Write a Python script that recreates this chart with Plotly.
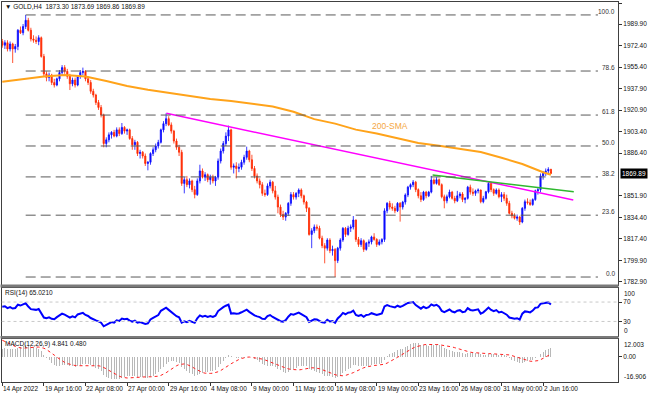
import plotly.graph_objects as go

# ---------------- data ----------------
OPEN0 = 1976.0
CLOSE = [1973,1975,1970,1974,1970,1972,1985,1983,1988,1993,1985,1978,1977,1976,1979,1964,1950,1947,1949,1943,
         1941,1946,1951,1955,1952,1948,1942,1945,1941,1948,1951,1952,1946,1943,1936,1933,1927,1923,1917,1894,
         1897,1901,1903,1900,1905,1902,1907,1904,1905,1898,1893,1895,1886,1887,1884,1878,1879,1886,1889,1892,
         1895,1905,1910,1914,1909,1904,1896,1891,1887,1862,1865,1861,1864,1857,1853,1864,1872,1867,1869,1865,
         1867,1864,1867,1880,1888,1894,1900,1905,1875,1876,1874,1875,1879,1883,1888,1881,1874,1868,1864,1861,
         1854,1853,1860,1863,1856,1851,1843,1837,1835,1838,1846,1853,1851,1854,1856.7,1852,1847,1842,1821,1824,
         1827,1826,1818,1812,1810,1816.5,1808,1809,1800,1810,1816.5,1825.9,1821,1826,1827,1832.6,1817,1813,1816,1809,
         1814,1815,1819,1817,1813,1815,1817,1840,1846,1843,1842,1840,1846,1843,1847,1852.7,1859,1861,1863,1857,
         1852,1849,1855,1852,1855,1864.7,1862,1865,1861,1851.3,1848,1851.3,1855,1850,1848,1852,1853.5,1849,1850,1859,
         1855,1854,1856,1856.7,1847.3,1850,1855.3,1862,1857,1854,1856.7,1851.3,1853,1850,1846,1838,1836,1834,1835,1831,
         1842,1847.3,1846.5,1845,1849,1856,1857,1868,1870,1872,1873.3,1869.89]
HIGH = [1978,1977,1977,1976,1975,1974,1986,1988,1990,1997.3,1995,1987,1981,1980,1981,1980,1966,1952,1951,1950,
        1946,1947,1953,1957,1957,1954,1950,1947,1947,1949,1953,1955,1953,1948,1945,1938,1934,1929,1925,1918,
        1899,1903,1904,1905,1907,1907,1910.5,1908,1906,1906,1900,1897,1896,1889,1888,1886,1880,1887,1891,1894,
        1897,1906,1912,1918.3,1916,1911,1905,1898,1893,1889,1867,1868,1866,1865,1860,1866,1877,1874,1871,1870,
        1869,1869,1868,1882,1890,1896,1903,1908.4,1906,1878,1879,1878,1881,1885,1891.5,1889,1885,1876,1870,1866,
        1863,1857,1862,1865,1864,1860,1853,1845,1840,1839,1847,1855,1855,1855,1858,1858,1853,1848,1843,1826,
        1829,1829,1828,1820,1814,1818,1818,1812,1810,1811,1818,1827,1827,1828,1829,1835.8,1833,1819,1818,1817,
        1815,1817,1820,1822,1818,1817,1818,1842,1847,1848,1846,1844,1847,1847,1848,1854,1860,1862,1864.7,1864,
        1858,1855,1856,1856,1856,1868,1866,1867,1866,1862,1853,1853,1857,1856,1852,1856,1855,1855,1851,1860,
        1861,1858,1857,1858,1857,1852,1856,1863.4,1863,1858,1858,1858,1855,1855,1853,1848,1840,1838,1837,1836,
        1843,1849,1850,1849,1850,1857,1859,1870,1872,1874,1875,1873.69]
LOW = [1971,1970,1968,1968,1958.7,1967,1969,1982,1981,1986,1984,1976,1975,1974,1973,1963,1948,1944,1944,1941,
       1939,1940,1944,1949,1950,1946,1937,1940,1939,1940,1946,1949,1944,1941,1934,1931,1925,1921,1915,1891,
       1891,1895,1898,1899,1899,1900,1901,1902,1901,1897,1889,1889,1884,1882,1882,1876,1872.5,1877,1884,1887,
       1890,1894,1903,1908,1908,1902,1894,1889,1884,1860,1854,1859,1858,1855,1850,1852,1862,1866,1864,1863,
       1861,1862,1860,1865,1878,1886,1892,1896,1873,1870,1866,1871,1873,1877,1881,1879,1872,1866,1862,1858,
       1852,1851.3,1852,1858,1854,1849,1838,1835,1832.6,1832,1836,1844,1849,1849,1851,1850,1845,1839,1820,1810,
       1822,1824,1817,1810,1797.8,1808,1806,1804,1786.8,1798,1808,1815,1819,1820,1823,1825,1815,1811,1811,1807,
       1808,1811,1813,1816,1811,1812,1813,1815,1838,1841,1840,1838,1839,1831.3,1841,1845,1851,1857,1859,1855,
       1850,1847,1848,1850,1851,1854,1861,1861,1860,1850,1842,1846,1850,1849,1846,1847,1850,1847,1846,1849,
       1853,1852,1852,1854,1846,1846,1849,1854,1855,1852,1853,1850,1847,1848,1844,1837,1834,1833,1832,1828.6,
       1830,1840,1845,1844,1844,1848,1853,1855,1865,1868,1870,1869.86]

SMA_IDX = [0,8,16,24,32,40,48,56,64,72,80,88,96,104,112,120,128,136,144,152,160,168,176,184,192,200,208,211]
SMA_VAL = [1943.7,1946.0,1947.9,1949.0,1947.9,1944.2,1940.3,1937.2,1934.6,1931.8,1929.8,1928.1,1926.2,1923.8,
           1919.5,1913.6,1910.0,1905.2,1902.0,1898.5,1894.5,1892.2,1890.0,1887.2,1882.6,1877.6,1871.0,1869.0]

FIB_HIGH, FIB_LOW = 1997.3, 1786.8
FIB_RATIOS = [1.0, 0.786, 0.618, 0.5, 0.382, 0.236, 0.0]
FIB_TEXT = ["100.0", "78.6", "61.8", "50.0", "38.2", "23.6", "0.0"]

TL_MAGENTA_X, TL_MAGENTA_Y = [63.1, 219.6], [1918.3, 1848.7]
TL_GREEN_X, TL_GREEN_Y = [165.5, 219.8], [1868.7, 1855.3]

PRICE_TICKS = [2006.90, 1989.90, 1972.40, 1955.40, 1937.90, 1920.90, 1903.40, 1886.40,
               1851.90, 1834.40, 1817.40, 1799.90, 1782.90]
TIME_IDX = [0, 16, 32, 48, 64, 80, 96, 112, 128, 144, 160, 176, 192, 208]
TIME_TXT = ["14 Apr 2022", "19 Apr 16:00", "22 Apr 08:00", "27 Apr 00:00", "29 Apr 16:00", "4 May 08:00",
            "9 May 00:00", "11 May 16:00", "16 May 08:00", "19 May 00:00", "23 May 16:00", "26 May 08:00",
            "31 May 00:00", "2 Jun 16:00"]

RSI_N = 14
RSI_SEED_GAIN, RSI_SEED_LOSS = 4.0, 2.4
EMA_FAST_SEED, EMA_SLOW_SEED = 1966.0, 1961.0
MACD_PRE = [13.5, 13.0, 12.5, 12.0, 11.5, 11.0, 10.0, 9.0]   # main-line values of the 8 bars before the first

# ---------------- derived series ----------------
N = len(CLOSE)
idx = list(range(N))
opens = [OPEN0] + CLOSE[:-1]

rsi = []
ag, al, prev = RSI_SEED_GAIN, RSI_SEED_LOSS, OPEN0
for c in CLOSE:
    ch = c - prev
    ag = (ag * (RSI_N - 1) + max(ch, 0)) / RSI_N
    al = (al * (RSI_N - 1) + max(-ch, 0)) / RSI_N
    rsi.append(100 - 100 / (1 + ag / al))
    prev = c

macd, e12, e26 = [], EMA_FAST_SEED, EMA_SLOW_SEED
for c in CLOSE:
    e12 += 2 / 13 * (c - e12)
    e26 += 2 / 27 * (c - e26)
    macd.append(e12 - e26)
full = MACD_PRE + macd
signal = [sum(full[i:i + 9]) / 9 for i in range(N)]

fib_levels = [FIB_LOW + r * (FIB_HIGH - FIB_LOW) for r in FIB_RATIOS]

# ---------------- geometry ----------------
W, H = 648, 396
def fx(px): return px / W
def fy(px): return 1 - px / H

XR = [-0.3, 236.8]
XD = [fx(1.5), fx(618)]
MAIN_D = [fy(285), fy(2)]
RSI_D = [fy(336), fy(287.5)]
MACD_D = [fy(382), fy(338.5)]
FONT = "Liberation Sans, Arial, sans-serif"
FS = 6.5
BULL, BEAR = "#0a0aff", "#ff2a00"

fig = go.Figure()
fig.add_trace(go.Candlestick(
    x=idx, open=opens, high=HIGH, low=LOW, close=CLOSE, xaxis="x", yaxis="y",
    increasing=dict(line=dict(color=BULL, width=0.8), fillcolor=BULL),
    decreasing=dict(line=dict(color=BEAR, width=0.8), fillcolor=BEAR),
    whiskerwidth=0, showlegend=False, hoverinfo="skip"))
fig.add_trace(go.Scatter(x=SMA_IDX, y=SMA_VAL, mode="lines", line=dict(color="#ffa31a", width=2),
                         xaxis="x", yaxis="y", showlegend=False, hoverinfo="skip"))
fig.add_trace(go.Scatter(x=TL_MAGENTA_X, y=TL_MAGENTA_Y, mode="lines", line=dict(color="#ff00ff", width=1.5),
                         xaxis="x", yaxis="y", showlegend=False, hoverinfo="skip"))
fig.add_trace(go.Scatter(x=TL_GREEN_X, y=TL_GREEN_Y, mode="lines", line=dict(color="#2eb82e", width=1.5),
                         xaxis="x", yaxis="y", showlegend=False, hoverinfo="skip"))
fig.add_trace(go.Scatter(x=idx, y=rsi, mode="lines", line=dict(color="#0000ff", width=2),
                         xaxis="x2", yaxis="y2", showlegend=False, hoverinfo="skip"))
fig.add_trace(go.Bar(x=idx, y=macd, width=0.4, marker=dict(color="#b8b8b8", line=dict(width=0)),
                     xaxis="x3", yaxis="y3", showlegend=False, hoverinfo="skip"))
fig.add_trace(go.Scatter(x=idx, y=signal, mode="lines", line=dict(color="#ff2020", width=1, dash="dot"),
                         xaxis="x3", yaxis="y3", showlegend=False, hoverinfo="skip"))

shapes = []
for lv in fib_levels:
    shapes.append(dict(type="line", xref="x", yref="y", x0=9, x1=229.1, y0=lv, y1=lv,
                       line=dict(color="#5a5a5a", width=1, dash="10px,5px")))
for lv in (70, 30):
    shapes.append(dict(type="line", xref="x2", yref="y2", x0=XR[0], x1=XR[1], y0=lv, y1=lv,
                       line=dict(color="#c8c8c8", width=1, dash="dot")))
for y0, y1 in ((284.5, 287.5), (336, 338.5)):
    shapes.append(dict(type="rect", xref="paper", yref="paper", x0=fx(0.5), x1=fx(618.5), y0=fy(y1), y1=fy(y0),
                       fillcolor="#7a7a7a", line=dict(width=0), layer="above"))

ann = []
ann.append(dict(xref="paper", yref="paper", x=fx(3), y=fy(6.5), xanchor="left", yanchor="middle", showarrow=False,
                text="▼ GOLD,H4  1873.30 1873.69 1869.86 1869.89", font=dict(family=FONT, size=FS, color="#111")))
ann.append(dict(xref="paper", yref="paper", x=fx(3), y=fy(292.5), xanchor="left", yanchor="middle", showarrow=False,
                text="RSI(14) 65.0210", font=dict(family=FONT, size=FS, color="#111")))
ann.append(dict(xref="paper", yref="paper", x=fx(3), y=fy(343.5), xanchor="left", yanchor="middle", showarrow=False,
                text="MACD(12,26,9) 4.841 0.480", font=dict(family=FONT, size=FS, color="#111")))
for lv, t in zip(fib_levels, FIB_TEXT):
    ann.append(dict(xref="x", yref="y", x=236.3, y=lv, xanchor="right", yanchor="bottom", showarrow=False,
                    text=t, yshift=-2, font=dict(family=FONT, size=FS, color="#333")))
ann.append(dict(xref="x", yref="y", x=149.1, y=1908.1, xanchor="center", yanchor="middle", showarrow=False,
                text="200-SMA", font=dict(family=FONT, size=8.5, color="#f5a742")))
ann.append(dict(xref="paper", yref="y", x=fx(619.5), y=CLOSE[-1], xanchor="left", yanchor="middle", showarrow=False,
                text="%.2f" % CLOSE[-1], bgcolor="#000000", borderpad=1,
                font=dict(family=FONT, size=FS, color="#ffffff")))
for txt, yv, yr, anc in (("100", 100, "y2", "top"), ("0", 0, "y2", "bottom"),
                          ("12.003", 12.003, "y3", "top"), ("-16.906", -16.906, "y3", "bottom")):
    ann.append(dict(xref="paper", yref=yr, x=fx(622), y=yv, xanchor="left", yanchor=anc, showarrow=False,
                    text=txt, font=dict(family=FONT, size=FS, color="#111")))
for i, t in zip(TIME_IDX, TIME_TXT):
    ann.append(dict(xref="x3", yref="paper", x=i, y=fy(388.5), xanchor="left", yanchor="middle", showarrow=False,
                    text=t, xshift=-1, font=dict(family=FONT, size=FS, color="#111")))

ax_common = dict(range=XR, domain=XD, showgrid=False, zeroline=False, showline=True, mirror=True,
                 linecolor="#404040", linewidth=1, fixedrange=True)
yax_common = dict(side="right", showgrid=False, zeroline=False, showline=True, mirror=True,
                  linecolor="#404040", linewidth=1, ticks="outside", ticklen=3, tickcolor="#333",
                  tickfont=dict(family=FONT, size=FS, color="#111"), fixedrange=True)

fig.update_layout(
    width=W, height=H, margin=dict(l=0, r=0, t=0, b=0), paper_bgcolor="white", plot_bgcolor="white",
    boxgap=0.35, bargap=0,
    xaxis=dict(**ax_common, anchor="y", showticklabels=False, rangeslider=dict(visible=False)),
    xaxis2=dict(**ax_common, anchor="y2", showticklabels=False),
    xaxis3=dict(**ax_common, anchor="y3", showticklabels=False, ticks="outside", ticklen=3,
                tickcolor="#333", tickvals=TIME_IDX),
    yaxis=dict(**yax_common, anchor="x", domain=MAIN_D, range=[1780.4, 2007.7],
               tickvals=PRICE_TICKS, ticktext=["%.2f" % v for v in PRICE_TICKS]),
    yaxis2=dict(**yax_common, anchor="x2", domain=RSI_D, range=[0, 100], tickvals=[70, 30], ticktext=["70", "30"]),
    yaxis3=dict(**yax_common, anchor="x3", domain=MACD_D, range=[-16.906, 12.003], tickvals=[0], ticktext=["0.00"]),
    shapes=shapes, annotations=ann, showlegend=False,
)
fig.write_html("out.html", config={"staticPlot": True},
               post_script="document.body.style.margin='0';document.body.style.overflow='hidden';")
